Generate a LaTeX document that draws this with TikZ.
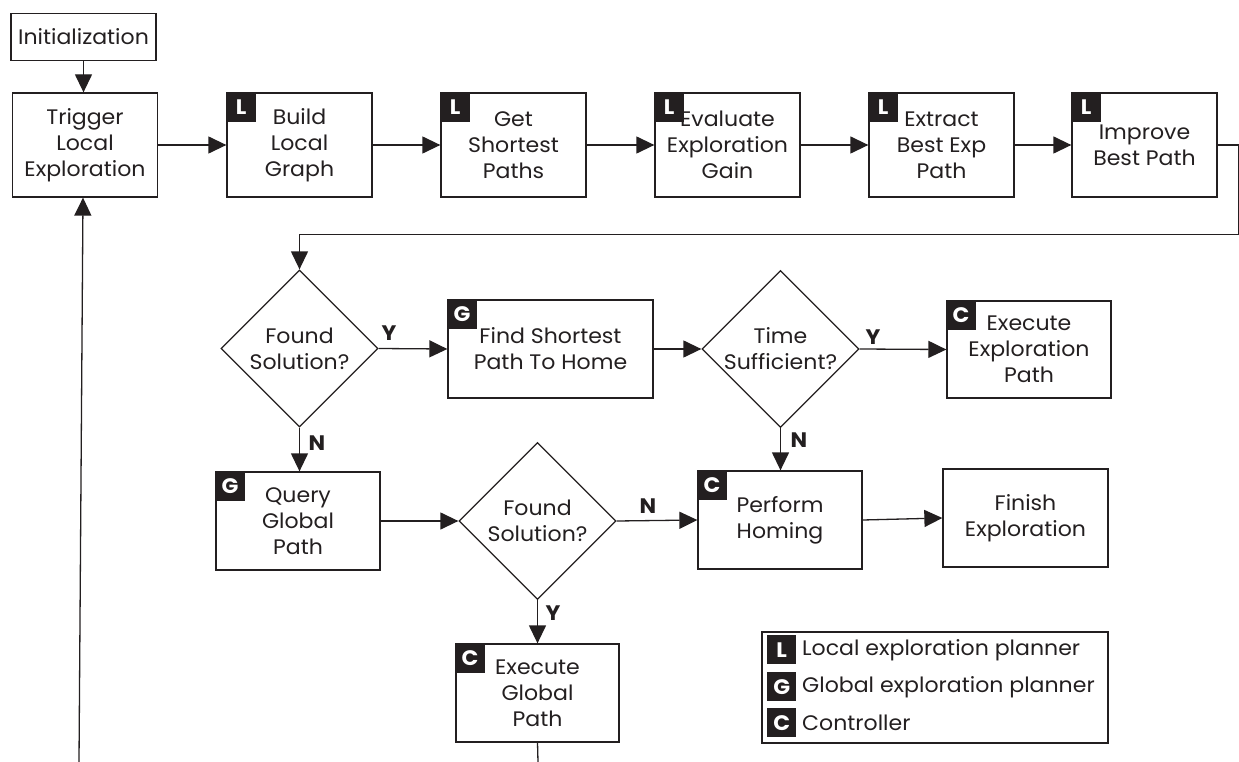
\documentclass[tikz,border=0pt]{standalone}
\usepackage{fontspec}
\setmainfont{Poppins}[FakeStretch=1.05]
\usetikzlibrary{arrows.meta,shapes.geometric}
\definecolor{ink}{HTML}{231F20}
\begin{document}
\begin{tikzpicture}[x=1pt,y=-1pt,
  every node/.style={font=\fontsize{21}{26}\selectfont, text=ink},
  box/.style={draw=ink, line width=1.3pt, rectangle, inner sep=0pt, align=center},
  dec/.style={draw=ink, line width=1.3pt, diamond, aspect=1, minimum width=157pt, minimum height=157pt, inner sep=0pt, align=center},
  tag/.style={fill=ink, text=white, font=\fontsize{21}{21}\selectfont\bfseries, minimum size=29pt, inner sep=0pt, anchor=north west},
  conn/.style={draw=ink, line width=1.3pt},
  arr/.style={conn, -{Triangle[length=18pt,width=17pt]}},
  yn/.style={font=\fontsize{21}{21}\selectfont\bfseries}
]
\useasboundingbox (0,0) rectangle (1239,762);
% top row
\node[box, minimum width=145pt, minimum height=47pt] (init) at (83.5,37) {Initialization};
\node[box, minimum width=145pt, minimum height=104pt] (trig) at (85,145) {Trigger\\Local\\Exploration};
\node[box, minimum width=145pt, minimum height=104pt] (build) at (299.5,145) {Build\\Local\\Graph};
\node[box, minimum width=145pt, minimum height=104pt] (get) at (513.5,145) {Get\\Shortest\\Paths};
\node[box, minimum width=145pt, minimum height=104pt] (eval) at (727.5,145) {Evaluate\\Exploration\\Gain};
\node[box, minimum width=145pt, minimum height=104pt] (extr) at (941.5,145) {Extract\\Best Exp\\Path};
\node[box, minimum width=145pt, minimum height=104pt] (impr) at (1144.5,145) {\rule{0pt}{8pt}Improve\\Best Path};
\foreach \n in {build,get,eval,extr,impr} {\node[tag] at (\n.north west) {L};}
% middle
\node[dec] (dec1) at (299.5,348.5) {Found\\Solution?};
\node[box, minimum width=205pt, minimum height=98pt] (find) at (550.5,349) {Find Shortest\\Path To Home};
\node[dec] (dec2) at (780.5,349) {Time\\Sufficient?};
\node[box, minimum width=164pt, minimum height=97pt] (exe) at (1029,349.5) {Execute\\Exploration\\Path};
\node[box, minimum width=164pt, minimum height=98pt] (query) at (298,521) {\rule{0pt}{8pt}Query\\Global\\Path};
\node[dec] (dec3) at (537.5,521) {Found\\Solution?};
\node[box, minimum width=164pt, minimum height=98pt] (perf) at (780,520) {Perform\\Homing};
\node[box, minimum width=165pt, minimum height=98pt] (fin) at (1025.5,518) {Finish\\Exploration};
\node[box, minimum width=163pt, minimum height=98pt] (exg) at (537.5,693) {Execute\\Global\\Path};
\node[tag] at (find.north west) {G};
\node[tag] at (query.north west) {G};
\node[tag] at (exe.north west) {C};
\node[tag] at (perf.north west) {C};
\node[tag] at (exg.north west) {C};
% legend
\node[box, minimum width=346pt, minimum height=111pt] (leg) at (935,687.5) {};
\node[tag] (tl) at (767,635) {L};
\node[tag] (tg) at (767,672) {G};
\node[tag] (tc) at (767,708) {C};
\node[anchor=west, inner sep=0pt] (ll) at (802,650) {Local exploration planner};
\node[anchor=west, inner sep=0pt] (lg) at (802,687) {Global exploration planner};
\node[anchor=west, inner sep=0pt] (lc) at (802,723) {Controller};
% connectors
\draw[arr] (init.south) -- (init.south |- trig.north);
\draw[arr] (trig) -- (build);
\draw[arr] (build) -- (get);
\draw[arr] (get) -- (eval);
\draw[arr] (eval) -- (extr);
\draw[arr] (extr) -- (impr);
\coordinate (rc1) at (1238.5,145);
\coordinate (rc2) at (1238.5,234.5);
\draw[arr] (impr.east) -- (rc1) -- (rc2) -- (rc2 -| dec1.north) -- (dec1.north);
\draw[arr] (dec1.east) -- (find.west);
\node[yn] at (389,333) {Y};
\draw[arr] (find.east) -- (dec2.west);
\draw[arr] (dec2.east) -- (exe.west);
\node[yn] at (873,337) {Y};
\draw[arr] (dec2.south) -- (dec2.south |- perf.north);
\node[yn] at (799,440) {N};
\draw[arr] (dec1.south) -- (dec1.south |- query.north);
\node[yn] at (317,443) {N};
\draw[arr] (query.east) -- (dec3.west);
\draw[arr] (dec3.east) -- (perf.west);
\node[yn] at (648,506) {N};
\draw[arr] (dec3.south) -- (exg.north);
\node[yn] at (553,613) {Y};
\draw[arr] (perf.east) -- (fin.west);
\coordinate (gb) at (538,762);
\draw[conn] (exg.south) -- (gb);
\coordinate (lb) at (79,762);
\draw[arr] (lb) -- ([xshift=-2pt]trig.south);
\end{tikzpicture}
\end{document}
